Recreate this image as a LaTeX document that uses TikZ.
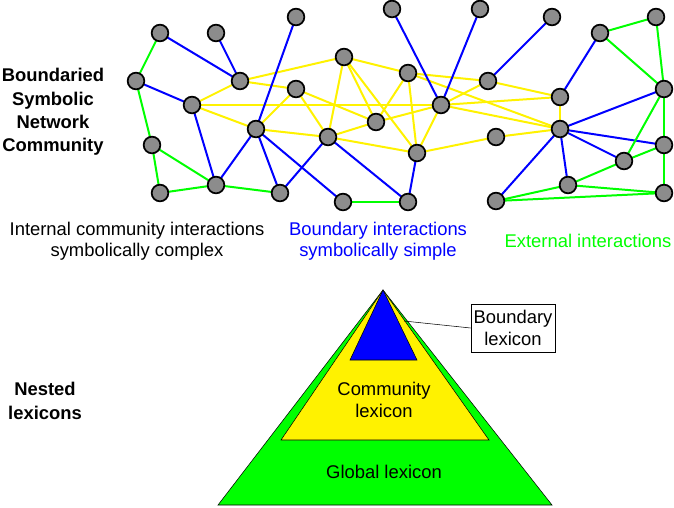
\documentclass[tikz,border=0pt]{standalone}
\usepackage{fontspec}
\setmainfont{Liberation Sans}
\begin{document}
\begin{tikzpicture}[
    x=0.75pt, y=-0.75pt,
    vertex/.style={circle, draw, fill=gray!90, line width=1.3pt, minimum size=12.5pt, inner sep=0pt},
    inner/.style={yellow, line width=1.5pt},
    bound/.style={blue, line width=1.5pt},
    outer/.style={green, line width=1.5pt},
    lbl/.style={align=center, font=\fontsize{13.8}{16}\selectfont}
]
\useasboundingbox (0,0) rectangle (674,507);

% vertices
\foreach \n/\x/\y in {a/160/33, b/216/33, c/296/17, t/392/9, d/136/81, e/240/81,
    h/344/57, s/408/73, g/296/89, f/192/105, i/256/129, j/376/122, k/328/137,
    l/152/145, q/417/153, m/160/193, n/216/185, o/280/193, p/343/202, r/408/202,
    u/480/9, w/441/105, x/488/81, y/552/17, z/600/33, A/656/17, B/664/89,
    C/560/97, D/560/129, E/496/137, F/664/145, G/624/161, H/568/185,
    I/496/201, J/664/193}
  \coordinate (\n) at (\x,\y);

% internal interactions
\foreach \u/\v in {e/h, e/g, e/f, f/w, w/C, f/i, i/g, i/k, g/k, g/j, h/k, h/s,
    h/q, h/j, j/s, j/w, k/j, k/q, s/x, s/q, s/D, w/x, w/q, w/D, x/C, C/D, q/E, E/D}
  \draw[inner] (\u) -- (\v);
% boundary interactions
\foreach \u/\v in {a/e, b/e, d/f, f/n, c/i, i/n, i/o, i/p, k/o, k/r, q/r,
    t/w, u/w, y/x, z/C, D/B, D/F, D/G, D/H, D/I}
  \draw[bound] (\u) -- (\v);
% external interactions
\foreach \u/\v in {a/d, d/l, l/m, l/n, m/n, n/o, p/r,
    z/A, z/B, A/B, B/G, B/F, F/G, F/J, G/H, H/I, H/J, I/J}
  \draw[outer] (\u) -- (\v);

\foreach \n in {a,b,c,t,d,e,h,s,g,f,i,j,k,l,q,m,n,o,p,r,u,w,x,y,z,A,B,C,D,E,F,G,H,I,J}
  \node[vertex] (v\n) at (\n) {};

% captions
\node[lbl, font=\fontsize{13.8}{17.5}\selectfont\bfseries] (community) at (53,112) {Boundaried\\Symbolic\\Network\\Community};
\node[lbl] (internal) at (137,241) {Internal community interactions\\symbolically complex};
\node[lbl, text=blue] (boundary) at (378,241) {Boundary interactions\\symbolically simple};
\node[lbl, text=green] (external) at (588,241) {External interactions};
\node[lbl, font=\fontsize{13.8}{17.5}\selectfont\bfseries] (nested) at (45,401) {Nested\\lexicons};

% lexicon pyramid
\draw[fill=green] (383,290) coordinate (apex) -- (552,505) -- (218,505) -- cycle;
\draw[fill=yellow] (apex) -- (489,440) -- (281,440) -- cycle;
\draw[fill=blue] (apex) -- (417,360) -- (350,360) -- cycle;
\node[lbl] (comlex) at (384,400) {Community\\lexicon};
\node[lbl] (glolex) at (384,472) {Global lexicon};
\node[lbl, draw, minimum width=62pt, minimum height=36pt, inner sep=2pt] (boxlex) at (513,328) {Boundary\\lexicon};
\coordinate (tip) at (404,321);
\draw (tip) -- (boxlex.west);
\end{tikzpicture}
\end{document}
